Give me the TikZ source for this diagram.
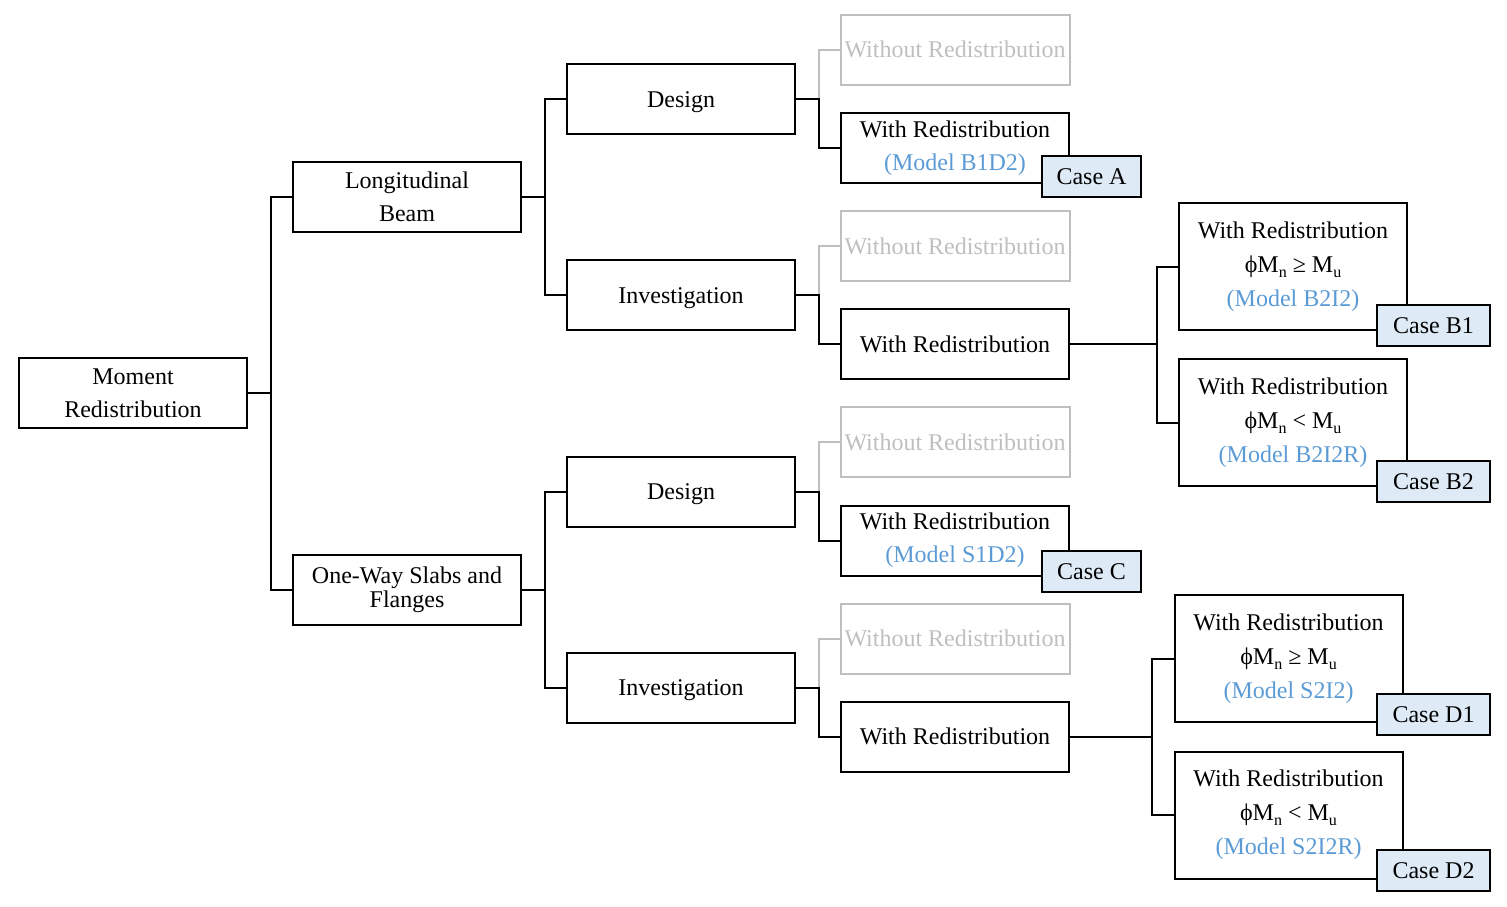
\documentclass[tikz,border=0pt]{standalone}
\usepackage{fontspec}
\setmainfont{Liberation Serif}
\usetikzlibrary{positioning}
\definecolor{modelblue}{HTML}{5B9BD5}
\definecolor{casefill}{HTML}{DEEBF7}
\definecolor{offgray}{HTML}{BFBFBF}
\newcommand{\mdl}[1]{\textcolor{modelblue}{(Model #1)}}
\newcommand{\phimn}{ϕM\raisebox{-0.45ex}{\footnotesize n}}
\newcommand{\mmu}{M\raisebox{-0.45ex}{\footnotesize u}}

\begin{document}
\begin{tikzpicture}[
  x=0.5pt, y=-0.5pt,
  every node/.style={font=\fontsize{12}{16.5}\selectfont, align=center},
  box/.style={draw, line width=1pt, minimum width=114pt, minimum height=35pt, inner sep=2pt},
  oneline/.style={text height=9pt, text depth=1pt},
  tallbox/.style={box, minimum height=63.5pt},
  offbox/.style={box, oneline, draw=offgray, text=offgray},
  casebox/.style={draw, line width=1pt, fill=casefill, minimum height=20.5pt, inner sep=1pt, oneline},
  link/.style={line width=1pt},
  offlink/.style={line width=1pt, draw=offgray}
]
\useasboundingbox (0,0) rectangle (1507,906);

% levels 1 and 2
\node[box] (mr) at (133,393) {Moment\\Redistribution};
\node[box] (lb) at (407,197) {Longitudinal\\Beam};
\node[box, font=\fontsize{12}{12}\selectfont] (ow) at (407,589.5) {One-Way Slabs and\\Flanges};

% level 3
\node[box, oneline] (bd) at (681,99) {Design};
\node[box, oneline] (bi) at (681,295) {Investigation};
\node[box, oneline] (sd) at (681,491.5) {Design};
\node[box, oneline] (si) at (681,687.5) {Investigation};

% level 4
\node[offbox] (bdwo) at (955,49.5) {Without Redistribution};
\node[box] (bdw) at (955,148) {With Redistribution\\\mdl{B1D2}};
\node[offbox] (biwo) at (955,246) {Without Redistribution};
\node[box, oneline] (biw) at (955,344) {With Redistribution};
\node[offbox] (sdwo) at (955,442) {Without Redistribution};
\node[box] (sdw) at (955,540.5) {With Redistribution\\\mdl{S1D2}};
\node[offbox] (siwo) at (955,638.5) {Without Redistribution};
\node[box, oneline] (siw) at (955,736.5) {With Redistribution};

% level 5
\node[tallbox, font=\fontsize{12}{17}\selectfont] (b1) at (1293,266.5) {With Redistribution\\\phimn\ ≥ \mmu\\\mdl{B2I2}};
\node[tallbox, font=\fontsize{12}{17}\selectfont] (b2) at (1293,422.5) {With Redistribution\\\phimn\ < \mmu\\\mdl{B2I2R}};
\node[tallbox, font=\fontsize{12}{17}\selectfont] (d1) at (1288.5,658.5) {With Redistribution\\\phimn\ ≥ \mmu\\\mdl{S2I2}};
\node[tallbox, font=\fontsize{12}{17}\selectfont] (d2) at (1288.5,815) {With Redistribution\\\phimn\ < \mmu\\\mdl{S2I2R}};

% connectors
\draw[link] (mr.east) -- ++(23,0) |- (lb.west);
\draw[link] (mr.east) -- ++(23,0) |- (ow.west);
\draw[link] (lb.east) -- ++(23,0) |- (bd.west);
\draw[link] (lb.east) -- ++(23,0) |- (bi.west);
\draw[link] (ow.east) -- ++(23,0) |- (sd.west);
\draw[link] (ow.east) -- ++(23,0) |- (si.west);
\foreach \a/\b/\c in {bd/bdwo/bdw, bi/biwo/biw, sd/sdwo/sdw, si/siwo/siw} {
  \draw[offlink] (\a.east) ++(23,0) |- (\b.west);
  \draw[link] (\a.east) -- ++(23,0) |- (\c.west);
}
\draw[link] (biw.east) -- ++(87,0) |- (b1.west);
\draw[link] (biw.east) -- ++(87,0) |- (b2.west);
\draw[link] (siw.east) -- ++(82,0) |- (d1.west);
\draw[link] (siw.east) -- ++(82,0) |- (d2.west);

% cases
\node[casebox, minimum width=49.5pt] (caseA) at (1091.5,176.5) {Case A};
\node[casebox, minimum width=49.5pt] (caseC) at (1091.5,571) {Case C};
\node[casebox, minimum width=56.5pt] (caseB1) at (1433.5,325) {Case B1};
\node[casebox, minimum width=56.5pt] (caseB2) at (1433.5,481) {Case B2};
\node[casebox, minimum width=56.5pt] (caseD1) at (1433.5,714) {Case D1};
\node[casebox, minimum width=56.5pt] (caseD2) at (1433.5,870.5) {Case D2};
\end{tikzpicture}
\end{document}
